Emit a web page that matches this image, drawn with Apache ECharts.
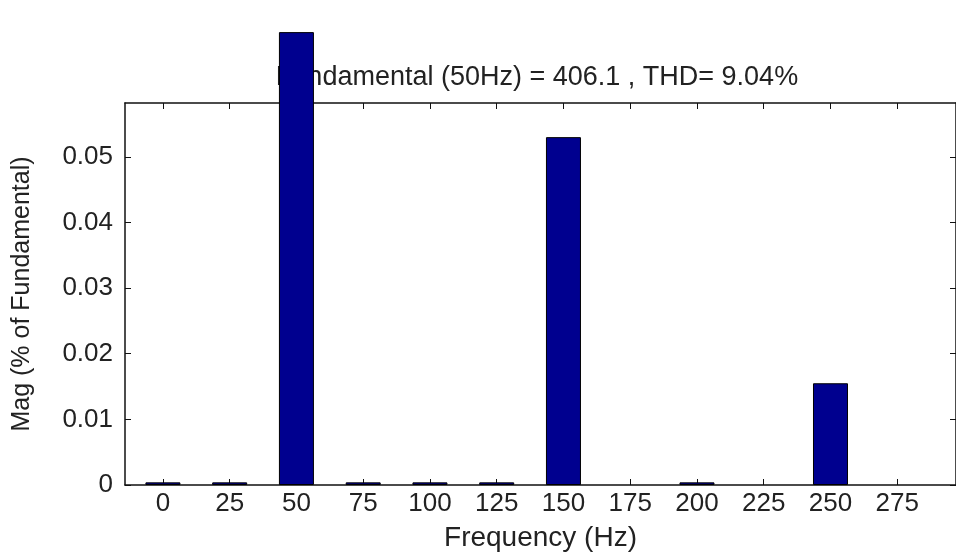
<!DOCTYPE html>
<html><head><meta charset="utf-8">
<script src="https://cdn.jsdelivr.net/npm/echarts@6/dist/echarts.min.js"></script>
<style>html,body{margin:0;padding:0;background:#fff}#c{width:956px;height:553px}</style>
</head><body><div id="c"></div>
<script>
const freqs = [0, 25, 50, 75, 100, 125, 150, 200, 250];
const mags = [0.0004, 0.0004, 0.069, 0.0004, 0.0004, 0.0004, 0.0530, 0.0004, 0.0155];
const xTicks = [0, 25, 50, 75, 100, 125, 150, 175, 200, 225, 250, 275];
const yTicks = [0, 0.01, 0.02, 0.03, 0.04, 0.05];
const titleText = 'Fundamental (50Hz) = 406.1 , THD= 9.04%';
const xName = 'Frequency (Hz)';
const yName = 'Mag (% of Fundamental)';

const font = 'Liberation Sans, Arial, sans-serif';
const txt = '#222';
const chart = echarts.init(document.getElementById('c'));
const lineStyle = {color: '#111', width: 1.5};
chart.setOption({
  animation: false,
  title: {text: titleText, left: 532, top: 59, textAlign: 'center', z: 0,
    textStyle: {fontFamily: font, fontSize: 27, fontWeight: 'normal', color: txt}},
  grid: {left: 125, top: 103, right: 0, bottom: 68, containLabel: false, outerBoundsMode: 'none'},
  xAxis: [{
    type: 'value', min: -14.2, max: 297, position: 'bottom',
    name: xName, nameLocation: 'middle', nameGap: 39,
    nameTextStyle: {fontFamily: font, fontSize: 28, color: txt},
    axisLine: {show: true, onZero: false, lineStyle},
    axisTick: {show: true, inside: true, length: 6, customValues: xTicks, lineStyle: {color: '#111'}},
    axisLabel: {customValues: xTicks, fontFamily: font, fontSize: 26, color: txt, margin: 6},
    splitLine: {show: false}
  }, {
    type: 'value', min: -14.2, max: 297, position: 'top',
    axisLine: {show: true, onZero: false, lineStyle},
    axisTick: {show: true, inside: true, length: 6, customValues: xTicks, lineStyle: {color: '#111'}},
    axisLabel: {show: false}, splitLine: {show: false}
  }],
  yAxis: [{
    type: 'value', min: 0, max: 0.0582, position: 'left',
    name: yName, nameLocation: 'middle', nameGap: 90,
    nameTextStyle: {fontFamily: font, fontSize: 25, color: txt},
    axisLine: {show: true, onZero: false, lineStyle},
    axisTick: {show: true, inside: true, length: 6, customValues: yTicks, lineStyle: {color: '#111'}},
    axisLabel: {customValues: yTicks, fontFamily: font, fontSize: 26, color: txt, margin: 12,
      formatter: v => v === 0 ? '0' : String(+v.toFixed(2))},
    splitLine: {show: false}
  }, {
    type: 'value', min: 0, max: 0.0582, position: 'right',
    axisLine: {show: true, onZero: false, lineStyle},
    axisTick: {show: true, inside: true, length: 6, customValues: yTicks, lineStyle: {color: '#111'}},
    axisLabel: {show: false}, splitLine: {show: false}
  }],
  series: [{
    type: 'bar', xAxisIndex: 0, yAxisIndex: 0, clip: false, z: 10,
    barWidth: 35,
    data: freqs.map((f, i) => [f, mags[i]]),
    itemStyle: {color: '#00008f', borderColor: '#000', borderWidth: 1}
  }]
});
</script></body></html>
